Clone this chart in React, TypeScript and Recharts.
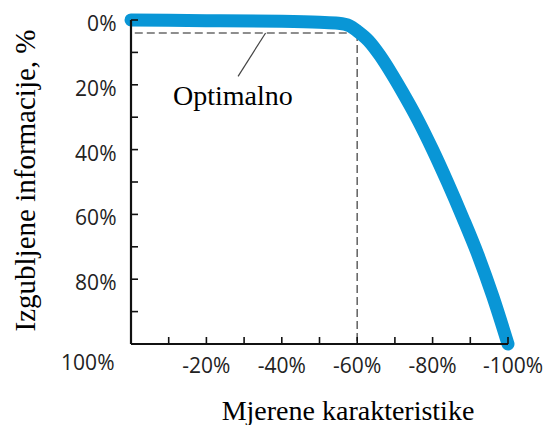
import {
  LineChart,
  Line,
  XAxis,
  YAxis,
  ReferenceLine,
  ReferenceDot,
} from "recharts";

// measured characteristics (x, %) vs lost information (y, %)
const measured = [0, -20, -40, -50, -55, -58, -60, -63, -66, -69, -72, -76, -80, -84, -88, -92, -96, -100];
const lost = [0, 0.2, 0.4, 0.7, 1.0, 1.8, 3.4, 6.4, 10.9, 16.3, 22.2, 30.6, 40, 50.2, 61, 72.4, 85.4, 100];

const xTicks = [-10, -20, -30, -40, -50, -60, -70, -80, -90, -100];
const xLabelled = [-20, -40, -60, -80, -100];
const yTicks = [0, 10, 20, 30, 40, 50, 60, 70, 80, 90, 100];
const yLabelled = [0, 20, 40, 60, 80, 100];

// optimal point and its annotation
const optimumX = -60;
const optimumY = 4;
const dashFromX = -1;
const leaderFrom = { x: -35.7, y: 4 };
const leaderTo = { x: -28.4, y: 17.4 };
const noteAt = { x: -27, y: 23.1 };

const data = measured.map((m, i) => ({ x: m, y: lost[i] }));

const BLUE = "#0996d6";
const INK = "#111";
const SANS = "'Open Sans', sans-serif";
const SERIF = "'Liberation Serif', 'Times New Roman', serif";

function YTick(props: any) {
  const { x, y, payload } = props;
  const v = payload.value;
  const last = v === 100;
  return (
    <g>
      {!last && (
        <line x1={x} x2={x + 7} y1={y} y2={y} stroke={INK} strokeWidth={1.6} />
      )}
      {yLabelled.includes(v) && (
        <text
          x={x - (last ? 16.5 : 14.5)}
          y={y + (last ? 26 : 11)}
          textAnchor="end"
          fontFamily={SANS}
          fontSize={21}
          fill="#222"
        >
          {v}%
        </text>
      )}
    </g>
  );
}

function XTick(props: any) {
  const { x, y, payload } = props;
  const v = payload.value;
  return (
    <g>
      <line x1={x} x2={x} y1={y} y2={y - 7} stroke={INK} strokeWidth={1.6} />
      {xLabelled.includes(v) && (
        <text
          x={x + (v === -100 ? 5 : 0)}
          y={y + 29}
          textAnchor="middle"
          fontFamily={SANS}
          fontSize={21}
          fill="#222"
        >
          {v}%
        </text>
      )}
    </g>
  );
}

function XTitle(props: any) {
  const { viewBox } = props;
  const cx = viewBox.x + viewBox.width / 2 + 28.5;
  return (
    <text
      x={cx}
      y={viewBox.y + 76}
      textAnchor="middle"
      fontFamily={SERIF}
      fontSize={28}
      fill="#000"
    >
      Mjerene karakteristike
    </text>
  );
}

function YTitle(props: any) {
  const { viewBox } = props;
  const cx = viewBox.x + 25;
  const cy = viewBox.y + viewBox.height / 2 - 1.5;
  return (
    <text
      x={cx}
      y={cy}
      dy="0.35em"
      transform={`rotate(-90 ${cx} ${cy})`}
      textAnchor="middle"
      fontFamily={SERIF}
      fontSize={29}
      fill="#000"
    >
      Izgubljene informacije, %
    </text>
  );
}

export default function App() {
  return (
    <div style={{ position: "absolute", left: 0, top: 0, background: "#fff" }}>
      <LineChart
        width={548}
        height={425}
        data={data}
        margin={{ top: 20, right: 40, bottom: 25, left: 0 }}
      >
        <XAxis
          dataKey="x"
          type="number"
          domain={[-100, 0]}
          reversed
          ticks={xTicks}
          interval={0}
          height={56}
          tickSize={0}
          tickMargin={0}
          tickLine={false}
          axisLine={{ stroke: INK, strokeWidth: 2.2 }}
          tick={<XTick />}
          label={<XTitle />}
        />
        <YAxis
          dataKey="y"
          type="number"
          domain={[0, 100]}
          reversed
          ticks={yTicks}
          interval={0}
          width={131}
          tickSize={0}
          tickMargin={0}
          tickLine={false}
          axisLine={{ stroke: INK, strokeWidth: 2.2 }}
          tick={<YTick />}
          label={<YTitle />}
        />

        {/* optimum guides */}
        <ReferenceLine
          segment={[
            { x: dashFromX, y: optimumY },
            { x: optimumX, y: optimumY },
          ]}
          stroke="#6a6a6a"
          strokeWidth={1.6}
          strokeDasharray="8 4"
        />
        <ReferenceLine
          segment={[
            { x: optimumX, y: optimumY },
            { x: optimumX, y: 100 },
          ]}
          stroke="#6a6a6a"
          strokeWidth={1.6}
          strokeDasharray="8 4"
        />
        <ReferenceLine
          segment={[leaderFrom, leaderTo]}
          stroke="#444"
          strokeWidth={1.2}
        />
        <ReferenceDot
          x={noteAt.x}
          y={noteAt.y}
          r={1}
          fill="none"
          stroke="none"
          label={{
            value: "Optimalno",
            position: "center",
            fontFamily: SERIF,
            fontSize: 28,
            fill: "#000",
          }}
        />

        <Line
          type="monotone"
          dataKey="y"
          stroke={BLUE}
          strokeWidth={13}
          strokeLinecap="round"
          strokeLinejoin="round"
          dot={false}
          activeDot={false}
          isAnimationActive={false}
        />
      </LineChart>
    </div>
  );
}
